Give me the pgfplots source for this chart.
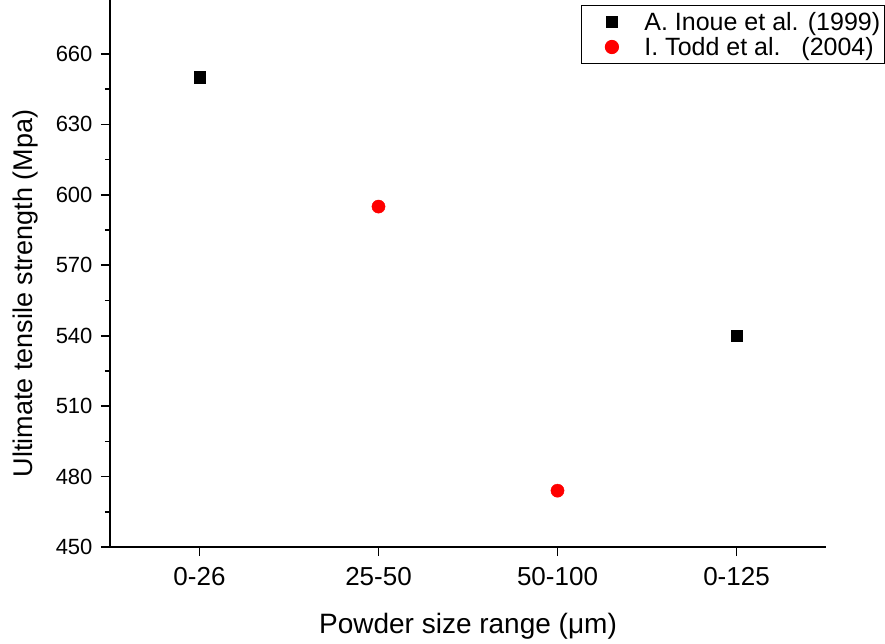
\documentclass[border=0pt]{standalone}
\usepackage{fontspec}
\setmainfont{Liberation Sans}
\usepackage{pgfplots}
\pgfplotsset{compat=1.18}

\begin{document}
\begin{tikzpicture}
\begin{axis}[
    scale only axis,
    width=716pt, height=547pt,
    xmin=-0.5, xmax=3.5,
    ymin=450, ymax=683,
    axis x line*=bottom,
    axis y line*=left,
    axis line style={-, line width=1.8pt},
    xtick={0,1,2,3},
    xticklabels={0-26,25-50,50-100,0-125},
    ytick={450,480,...,660},
    minor y tick num=1,
    tick align=outside,
    major tick length=9pt,
    minor tick length=5pt,
    tick style={line width=1.6pt, black},
    /pgf/number format/assume math mode=true,
    x tick label style={font=\fontsize{26}{30}\selectfont, yshift=-8pt},
    y tick label style={font=\fontsize{22}{26}\selectfont, xshift=-5pt},
    xlabel={Powder size range (μm)},
    ylabel={Ultimate tensile strength (Mpa)},
    xlabel style={font=\fontsize{28}{32}\selectfont,
        at={(rel axis cs:0.5,-0.1453)}, anchor=center},
    ylabel style={font=\fontsize{27}{31}\selectfont,
        at={(rel axis cs:-0.1173,0.4634)}, anchor=center},
    legend image code/.code={
        \path (0pt,0pt) (58pt,0pt);
        \draw[#1] plot coordinates {(30pt,0pt)};
    },
    legend style={at={(rel axis cs:1.082,0.9909)}, anchor=north east,
        draw=black, line width=1pt, font=\fontsize{25}{29}\selectfont,
        inner xsep=0pt, inner ysep=4pt,
        nodes={inner xsep=4pt, inner ysep=2.7pt},
        cells={anchor=west}},
    clip=false,
]
\addplot[only marks, mark=square*, mark size=5.8pt, black] coordinates {
    (0, 650)
    (3, 540)
};
\addlegendentry{A. Inoue et al. (1999)\hspace{8pt}}
\addplot[only marks, mark=*, mark size=6.6pt, red, mark options={fill=red}] coordinates {
    (1, 595)
    (2, 474)
};
\addlegendentry{I. Todd et al.\ \ \ (2004)\hspace{8pt}}
\end{axis}
\pgfresetboundingbox
\path (-110pt,-96pt) rectangle (775pt,547pt);
\end{tikzpicture}
\end{document}
